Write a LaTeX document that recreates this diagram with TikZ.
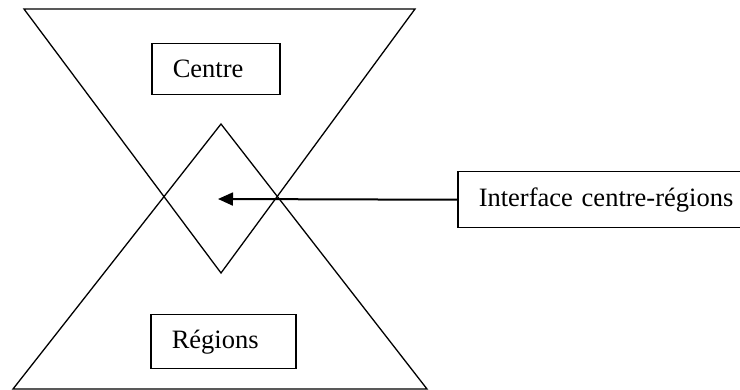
\documentclass[tikz,border=0pt]{standalone}
\usepackage{fontspec}
\setmainfont{Liberation Serif}
\usetikzlibrary{arrows.meta}
\begin{document}
\begin{tikzpicture}[x=1pt,y=-1pt,
  edge/.style={line width=1.3pt,line join=miter},
  label box/.style={draw,line width=1.5pt,rectangle,anchor=north west,
    inner xsep=21pt,inner ysep=0pt,align=left,
    font=\fontsize{26.5}{30}\selectfont},
  pointer/.style={line width=2pt,-{Triangle[length=15pt,width=13pt]}}]
  \useasboundingbox (0,0) rectangle (740,390);

  % hourglass: downward triangle above, upward triangle below;
  % their overlap forms the central diamond
  \coordinate (tl) at (24,9);
  \coordinate (tr) at (415,9);
  \coordinate (tapex) at (221,273);
  \coordinate (bl) at (13,389);
  \coordinate (br) at (427,389);
  \coordinate (bapex) at (221,124);
  \draw[edge] (tl) -- (tr) -- (tapex) -- cycle;
  \draw[edge] (bl) -- (br) -- (bapex) -- cycle;

  % labelled boxes
  \node[label box,text width=86pt,minimum height=51pt] (centre) at (151,43) {Centre};
  \node[label box,text width=103pt,minimum height=54pt] (regions) at (150,314) {Régions};
  \node[label box,text width=258pt,minimum height=56pt] (iface) at (457,171) {Interface centre-régions};

  % arrow into the diamond
  \coordinate (target) at (218,199);
  \draw[pointer] (iface.west) -- (target);
\end{tikzpicture}
\end{document}
